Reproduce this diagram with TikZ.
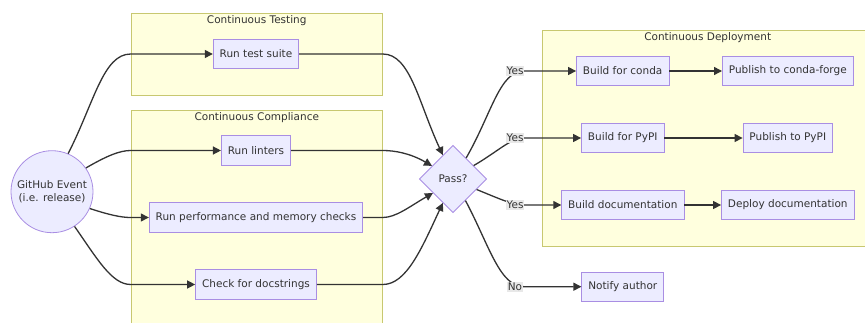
\documentclass[tikz,border=0pt]{standalone}
\usepackage{fontspec}
\setmainfont{DejaVu Sans}
\usetikzlibrary{shapes.geometric,arrows.meta}

\definecolor{boxfill}{HTML}{ECECFF}
\definecolor{boxline}{HTML}{A98EE3}
\definecolor{groupfill}{HTML}{FFFFDE}
\definecolor{groupline}{HTML}{C8C870}
\definecolor{ink}{HTML}{333333}
\definecolor{labelfill}{HTML}{E8E8E8}

\tikzset{
  task/.style={draw=boxline, fill=boxfill, line width=0.8pt, minimum height=29.4pt, inner xsep=6.5pt, text=ink},
  group/.style={draw=groupline, fill=groupfill, line width=0.8pt, anchor=north west, inner sep=0pt},
  grouptitle/.style={text=ink, anchor=north, inner sep=0pt, yshift=-2.5pt},
  flow/.style={draw=ink, line width=1.3pt, -{Triangle[length=8pt,width=8pt]}},
  answer/.style={fill=labelfill, text=ink, inner sep=1pt, xshift=-9pt},
  % straight run first, tight bend last (and the other way round)
  bendlate/.style={out looseness=1.25, in looseness=0.6},
  bendearly/.style={out looseness=0.6, in looseness=1.25},
}

\begin{document}
\begin{tikzpicture}[x=1pt, y=1pt, font=\fontsize{10.5}{12.6}\selectfont]
\clip (0,0) rectangle (865,-323);
% stage groups
\node[group, minimum width=251.3pt, minimum height=81.7pt] (tst) at (130.7,-13.3) {};
\node[group, minimum width=251.3pt, minimum height=230pt] (cmp) at (130.7,-110) {};
\node[group, minimum width=330pt, minimum height=215.7pt] (dep) at (542.3,-30) {};
\node[grouptitle] (tsttitle) at (tst.north) {Continuous Testing};
\node[grouptitle] (cmptitle) at (cmp.north) {Continuous Compliance};
\node[grouptitle] (deptitle) at (dep.north) {Continuous Deployment};

% steps
\node[task, circle, minimum size=82pt, inner sep=0pt, align=center] (gh) at (52,-191.7) {GitHub Event\\(i.e. release)};
\node[task] (rts) at (256,-54) {Run test suite};
\node[task] (lint) at (256,-150.5) {Run linters};
\node[task] (perf) at (256,-217.5) {Run performance and memory checks};
\node[task] (docs) at (256,-284.5) {Check for docstrings};
\node[task, diamond, aspect=1, minimum size=67.4pt, inner sep=0pt] (pass) at (453,-179) {Pass?};
\node[task] (conda) at (622.7,-71) {Build for conda};
\node[task] (cf) at (787.8,-71) {Publish to conda-forge};
\node[task] (pypi) at (622.7,-138) {Build for PyPI};
\node[task] (ppypi) at (787.8,-138) {Publish to PyPI};
\node[task] (bdoc) at (622.8,-205) {Build documentation};
\node[task] (ddoc) at (787.8,-205) {Deploy documentation};
\node[task] (notify) at (622.8,-286.7) {Notify author};

% event fans out to the checks
\draw[flow] (gh.67) to[out=63,in=180,bendlate] (rts.west -| tst.west) -- (rts);
\draw[flow] (gh.35) to[out=30,in=180,bendlate] (lint.west -| cmp.west) -- (lint);
\draw[flow] (gh.-24) to[out=-18,in=180,bendlate] (perf.west -| cmp.west) -- (perf);
\draw[flow] (gh.-57) to[out=-55,in=180,bendlate] (docs.west -| cmp.west) -- (docs);

% checks join at the decision
\draw[flow] (rts) -- (rts.east -| tst.east) to[out=0,in=115,bendearly] (pass.113);
\draw[flow] (lint) -- (lint.east -| cmp.east) to[out=0,in=150,bendearly] (pass.148);
\draw[flow] (perf) -- (perf.east -| cmp.east) to[out=0,in=210,bendearly] (pass.215);
\draw[flow] (docs) -- (docs.east -| cmp.east) to[out=0,in=245,bendearly] (pass.247);

% outcomes
\coordinate (turn) at (524,0);
\draw[flow] (pass.58) to[out=60,in=180,bendlate] (conda.west -| turn) node[answer] {Yes} -- (conda);
\draw[flow] (pass.33) to[out=30,in=180,bendlate] (pypi.west -| turn) node[answer] {Yes} -- (pypi);
\draw[flow] (pass.-24) to[out=-22,in=180,bendlate] (bdoc.west -| turn) node[answer] {Yes} -- (bdoc);
\draw[flow] (pass.-60) to[out=-62,in=180,bendlate] (notify.west -| turn) node[answer] {No} -- (notify);

\foreach \from/\to in {conda/cf, pypi/ppypi, bdoc/ddoc}
  \draw[flow] (\from) -- (\to);
\end{tikzpicture}
\end{document}
